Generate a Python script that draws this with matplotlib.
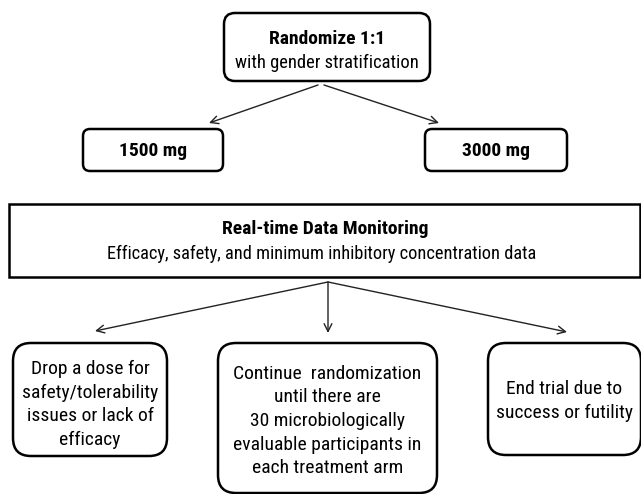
import matplotlib
matplotlib.use("Agg")
import matplotlib.pyplot as plt
from matplotlib.patches import FancyBboxPatch, Rectangle
from matplotlib import font_manager as fm

# ---- content ----
top_title = "Randomize 1:1"
top_sub = "with gender stratification"
arm_labels = ["1500 mg", "3000 mg"]
monitor_title = "Real-time Data Monitoring"
monitor_sub = "Efficacy, safety, and minimum inhibitory concentration data"
outcome_labels = [
    "Drop a dose for\nsafety/tolerability\nissues or lack of\nefficacy",
    "Continue  randomization\nuntil there are\n30 microbiologically\nevaluable participants in\neach treatment arm",
    "End trial due to\nsuccess or futility",
]

# ---- font choice: narrow sans with a bold weight ----
cands = ['Liberation Sans Narrow', 'Arial Narrow', 'Roboto Condensed',
         'Archivo Narrow', 'Pragati Narrow', 'PT Sans Narrow']
chosen = None
for c in cands:
    ws = [f.weight for f in fm.fontManager.ttflist if f.name == c]
    ws = [w if isinstance(w, int) else (700 if 'bold' in str(w) else 400) for w in ws]
    if any(w <= 500 for w in ws) and any(w >= 600 for w in ws):
        chosen = c
        break
fam = [chosen] if chosen else []
plt.rcParams['font.family'] = fam + ['Archivo Narrow', 'DejaVu Sans']

# ---- layout (pixels) ----
W, H = 641, 494
fig = plt.figure(figsize=(W / 100, H / 100), dpi=100)
ax = fig.add_axes([0, 0, 1, 1])
ax.set_xlim(0, W)
ax.set_ylim(H, 0)
ax.axis('off')

def rbox(x0, y0, x1, y1, r=10, lw=1.8):
    p = FancyBboxPatch((x0 + r, y0 + r), (x1 - x0) - 2 * r, (y1 - y0) - 2 * r,
                       boxstyle=f"round,pad={r}", fc='white', ec='black', lw=lw)
    ax.add_patch(p)

def arrow(x0, y0, x1, y1):
    ax.annotate("", xy=(x1, y1), xytext=(x0, y0),
                arrowprops=dict(arrowstyle='->', lw=1.0, color='#222222',
                                shrinkA=0, shrinkB=0, mutation_scale=14))

# top box
rbox(224, 13, 430, 81, r=11)
ax.text(327, 39, top_title, ha='center', va='center', fontsize=14, fontweight='bold')
ax.text(327, 63, top_sub, ha='center', va='center', fontsize=13.3)

# arms
arm_boxes = [(83, 129, 223, 171), (425, 129, 567, 171)]
for (x0, y0, x1, y1), lab in zip(arm_boxes, arm_labels):
    rbox(x0, y0, x1, y1, r=7)
    ax.text((x0 + x1) / 2, (y0 + y1) / 2 + 1, lab, ha='center', va='center',
            fontsize=14, fontweight='bold')

arrow(318, 85, 209, 123)
arrow(324, 85, 439, 123)

# monitoring box
ax.add_patch(Rectangle((9, 204), 631, 73, fc='white', ec='black', lw=1.8))
ax.text(325, 229, monitor_title, ha='center', va='center', fontsize=14, fontweight='bold')
ax.text(322, 254, monitor_sub, ha='center', va='center', fontsize=13.2)

# outcome boxes
out_boxes = [(13, 343, 167, 456), (218, 343, 437, 493), (488, 343, 641, 455)]
text_dy = [5, 3, 2]
for (x0, y0, x1, y1), lab, dy in zip(out_boxes, outcome_labels, text_dy):
    rbox(x0, y0, x1, y1, r=18)
    ax.text((x0 + x1) / 2, (y0 + y1) / 2 + dy, lab, ha='center', va='center',
            fontsize=14, linespacing=1.4)

arrow(328, 282, 95, 331)
arrow(328, 282, 328, 333)
arrow(328, 282, 567, 332)

fig.savefig("out.png", dpi=100, facecolor='white')
